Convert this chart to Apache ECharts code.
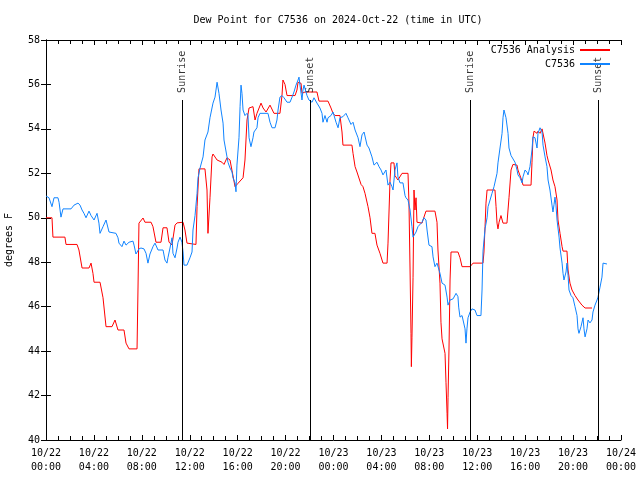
<!DOCTYPE html>
<html><head><meta charset="utf-8">
<script src="https://cdn.jsdelivr.net/npm/echarts@6/dist/echarts.min.js"></script>
<style>html,body{margin:0;padding:0;background:#fff}#c{width:640px;height:480px}</style>
</head><body><div id="c"></div>
<script>
// Hours since 2024-10-22 00:00 UTC
const analysisHours = [0,0.5,0.58,1.58,1.67,2.59,2.75,3.01,3.59,3.76,3.92,4.01,4.51,4.76,5.01,5.51,5.76,6.01,6.51,6.68,6.93,7.60,7.68,7.76,8.10,8.26,8.77,8.93,9.18,9.60,9.77,10.10,10.27,10.52,10.77,10.94,11.44,11.60,11.77,12.52,12.61,12.77,13.27,13.44,13.52,13.69,13.86,13.94,14.28,14.69,14.86,15.11,15.36,15.78,16.03,16.45,16.61,16.78,16.95,17.28,17.45,17.61,17.95,18.12,18.37,18.70,19.03,19.53,19.70,19.78,19.95,20.12,20.79,20.95,21.04,21.29,21.37,21.62,22.62,22.79,23.54,23.79,23.96,24.13,24.54,24.71,24.79,25.54,25.63,25.80,25.96,26.30,26.46,26.63,26.88,27.05,27.21,27.46,27.63,27.88,28.13,28.47,28.55,28.72,28.80,29.05,29.13,29.38,29.72,30.22,30.30,30.39,30.47,30.50,30.55,30.64,30.72,30.80,30.89,30.97,31.39,31.47,31.72,32.47,32.64,32.72,32.89,32.97,33.06,33.22,33.31,33.39,33.48,33.52,33.56,33.64,33.73,33.81,34.39,34.56,34.73,35.40,35.65,36.48,36.56,36.65,36.73,36.82,37.48,37.57,37.65,37.73,37.82,37.98,38.15,38.48,38.65,38.82,38.98,39.32,39.40,39.74,39.82,40.49,40.57,40.65,40.74,40.99,41.07,41.24,41.41,41.57,41.66,41.82,41.91,42.16,42.32,42.49,42.66,42.74,42.91,43.08,43.16,43.49,43.58,43.74,43.91,44.16,44.41,44.74,45.00,45.58];
const analysisValues = [50.0,50.0,49.13,49.13,48.8,48.8,48.55,47.74,47.74,47.96,47.5,47.1,47.1,46.4,45.1,45.1,45.4,44.95,44.95,44.36,44.1,44.1,46.84,49.76,49.99,49.8,49.8,49.6,48.9,48.9,49.55,49.55,48.9,48.78,49.67,49.77,49.8,49.45,48.86,48.8,50.5,52.2,52.2,51.25,49.3,50.9,52.74,52.87,52.6,52.5,52.4,52.7,52.6,51.4,51.55,51.8,52.6,54.4,54.94,55.0,54.4,54.7,55.16,54.94,54.76,55.07,54.7,54.7,55.5,56.2,56.0,55.5,55.5,55.75,56.1,56.05,55.6,55.66,55.66,55.25,55.25,54.94,54.7,54.6,54.6,53.86,53.27,53.27,52.9,52.3,52.06,51.5,51.4,51.1,50.5,50.0,49.3,49.3,48.77,48.4,47.96,47.96,48.86,51.7,52.47,52.47,51.9,51.7,52.0,52.0,50.66,47.65,44.8,43.3,44.6,47.3,51.25,50.35,50.9,49.8,49.76,49.9,50.3,50.3,49.8,48.55,47.06,45.3,44.55,44.55,43.9,42.6,41.2,40.5,41.9,44.05,47.2,48.46,48.46,48.2,47.8,47.8,47.96,47.96,48.46,49.6,50.66,51.25,51.25,50.5,49.76,49.5,49.8,50.1,49.76,49.76,50.9,52.15,52.4,52.37,52.15,51.65,51.47,51.47,52.5,53.6,53.9,53.8,53.9,53.8,54.0,54.0,53.36,52.8,52.6,52.15,51.7,51.4,50.8,49.9,49.3,48.7,48.5,48.5,47.65,47.06,46.75,46.5,46.3,46.07,45.94,45.94];

const stationHours = [0,0.25,0.50,0.67,1.00,1.09,1.25,1.42,2.09,2.34,2.67,2.84,3.01,3.17,3.34,3.59,3.76,4.01,4.26,4.42,4.51,4.76,5.01,5.26,5.84,6.01,6.09,6.34,6.51,6.68,6.93,7.01,7.26,7.35,7.51,7.76,7.93,8.18,8.35,8.51,8.68,8.93,9.10,9.35,9.77,9.93,10.10,10.18,10.35,10.52,10.60,10.77,10.94,11.02,11.19,11.35,11.44,11.52,11.77,12.02,12.19,12.27,12.44,12.61,12.69,12.86,13.11,13.27,13.52,13.69,13.94,14.11,14.28,14.44,14.61,14.78,14.86,15.11,15.19,15.36,15.53,15.61,15.78,15.86,15.94,16.11,16.20,16.28,16.36,16.45,16.61,16.78,16.86,16.95,17.11,17.28,17.36,17.61,17.70,17.86,18.53,18.70,18.87,19.12,19.28,19.37,19.53,19.70,19.87,20.12,20.37,20.54,20.70,20.87,21.04,21.12,21.20,21.37,21.45,21.54,21.70,21.79,21.95,22.21,22.37,22.62,22.87,23.04,23.12,23.29,23.46,23.54,23.79,23.96,24.21,24.38,24.54,24.79,25.04,25.21,25.46,25.63,25.80,26.05,26.21,26.38,26.55,26.80,26.96,27.21,27.38,27.63,27.80,27.97,28.13,28.38,28.55,28.72,28.88,28.97,29.13,29.30,29.38,29.55,29.80,29.97,30.05,30.22,30.39,30.55,30.64,30.89,31.05,31.39,31.55,31.72,31.81,31.97,32.22,32.31,32.47,32.64,32.72,32.89,33.06,33.31,33.48,33.56,33.73,33.98,34.23,34.39,34.45,34.56,34.73,34.81,34.98,35.06,35.14,35.23,35.40,35.56,35.81,35.98,36.31,36.40,36.48,36.65,36.82,36.90,37.07,37.23,37.40,37.65,37.73,37.90,38.07,38.15,38.23,38.40,38.57,38.65,38.82,38.98,39.15,39.32,39.40,39.57,39.74,39.82,39.99,40.15,40.24,40.40,40.57,40.65,40.82,40.99,41.07,41.24,41.41,41.49,41.66,41.82,41.91,42.07,42.24,42.32,42.41,42.49,42.57,42.66,42.83,42.91,43.08,43.16,43.24,43.41,43.49,43.58,43.66,43.83,43.99,44.16,44.33,44.41,44.49,44.66,44.83,44.91,45.00,45.16,45.25,45.41,45.58,45.66,45.83,46.00,46.08,46.25,46.41,46.50,46.66,46.83];
const stationValues = [50.98,50.9,50.5,50.9,50.9,50.7,50.03,50.4,50.4,50.57,50.66,50.57,50.35,50.2,50.0,50.3,50.1,49.9,50.2,49.76,49.3,49.6,49.9,49.36,49.3,49.1,48.86,48.7,48.95,48.77,48.9,48.86,48.95,48.77,48.37,48.6,48.64,48.6,48.4,47.96,48.37,48.7,48.86,48.55,48.55,48.1,47.96,48.2,48.64,49.1,48.4,48.2,48.64,48.9,49.13,48.9,48.46,47.87,47.87,48.2,48.46,49.45,50.1,51.1,51.8,52.24,52.74,53.5,53.86,54.5,55.16,55.43,56.1,55.6,54.85,54.26,53.5,52.74,52.5,52.24,52.06,51.8,51.57,51.17,52.37,53.6,55.0,55.97,55.6,54.85,54.6,54.7,54.6,53.6,53.2,53.6,53.86,54.05,54.5,54.7,54.7,54.3,54.05,54.05,54.4,54.85,55.43,55.5,55.4,55.2,55.2,55.43,55.66,55.97,56.2,56.33,55.97,55.3,55.75,55.97,55.66,55.5,55.3,55.2,55.4,55.16,54.94,54.7,54.3,54.6,54.3,54.5,54.6,54.76,54.3,54.05,54.5,54.55,54.7,54.5,54.2,54.3,53.95,53.6,53.2,53.73,53.86,53.27,53.14,52.74,52.37,52.5,52.3,52.15,51.93,52.15,51.47,51.6,51.4,51.25,52.15,52.47,51.84,51.57,51.57,51.0,50.9,50.8,50.35,49.6,49.13,49.36,49.6,49.8,50.0,49.9,49.45,48.77,48.7,48.24,47.8,47.96,47.9,47.5,47.06,46.97,46.43,46.07,46.3,46.35,46.6,46.45,45.98,45.53,45.6,45.53,45.0,44.36,45.0,45.5,45.76,45.9,45.85,45.6,45.6,46.75,48.5,49.5,50.0,50.5,50.8,51.1,51.4,52.0,52.47,53.14,53.8,54.5,54.85,54.5,53.8,53.14,52.8,52.74,52.5,52.15,51.93,51.8,51.57,51.84,52.15,52.05,51.93,52.3,53.05,53.64,53.6,53.14,53.8,54.05,53.86,53.27,52.74,52.3,51.7,51.25,50.57,50.26,50.6,50.93,50.57,49.9,49.13,48.64,47.96,47.5,47.2,47.56,47.96,47.4,46.75,46.5,46.4,46.0,45.6,45.0,44.8,45.1,45.5,45.0,44.64,45.0,45.4,45.27,45.4,45.76,46.07,46.3,46.43,46.88,47.33,47.96,47.96,47.92];

const sunHours = [11.35, 22.04, 35.40, 46.08];
const sunLabels = ['Sunrise', 'Sunset', 'Sunrise', 'Sunset'];
const yTicks = [40, 42, 44, 46, 48, 50, 52, 54, 56, 58];

const FONT = 'DejaVu Sans Mono';
const zip = (a, b) => a.map((v, i) => [v, b[i]]);
function fmtX(h) {
  const day = 22 + Math.floor(h / 24);
  const hh = Math.round(h % 24);
  return '10/' + day + '\n' + (hh < 10 ? '0' : '') + hh + ':00';
}
const chart = echarts.init(document.getElementById('c'), null, {renderer: 'canvas'});
const axisCommon = {
  axisLine: {show: true, lineStyle: {color: '#000', width: 1}},
  axisTick: {show: true, inside: true, length: 5, lineStyle: {color: '#000'}},
  splitLine: {show: false}
};
chart.setOption({
  animation: false,
  backgroundColor: '#fff',
  textStyle: {fontFamily: FONT},
  title: {
    text: 'Dew Point for C7536 on 2024-Oct-22 (time in UTC)',
    left: 333, top: 10, textAlign: 'center',
    textStyle: {fontFamily: FONT, fontSize: 10, fontWeight: 'normal', color: '#000'}
  },
  legend: {
    orient: 'vertical', right: 24, top: 40, align: 'right',
    itemWidth: 30, itemHeight: 10, itemGap: 4,
    itemStyle: {opacity: 0},
    textStyle: {fontFamily: FONT, fontSize: 10, color: '#000'},
    data: ['C7536 Analysis', 'C7536']
  },
  grid: {left: 46, right: 19, top: 40, bottom: 40, containLabel: false, outerBoundsMode: 'none'},
  xAxis: [
    Object.assign({}, axisCommon, {
      type: 'value', min: 0, max: 48, interval: 4, position: 'bottom',
      minorTick: {show: true, splitNumber: 4, length: 4, lineStyle: {color: '#000'}},
      axisLabel: {formatter: fmtX, fontFamily: FONT, fontSize: 10, color: '#000', lineHeight: 14, margin: 6}
    }),
    Object.assign({}, axisCommon, {
      type: 'value', min: 0, max: 48, interval: 4, position: 'top',
      minorTick: {show: true, splitNumber: 4, length: 4, lineStyle: {color: '#000'}},
      axisLabel: {show: false}
    })
  ],
  yAxis: [
    Object.assign({}, axisCommon, {
      type: 'value', min: yTicks[0], max: yTicks[yTicks.length - 1], interval: 2, position: 'left',
      name: 'degrees F', nameLocation: 'middle', nameGap: 32, nameRotate: 90,
      nameTextStyle: {fontFamily: FONT, fontSize: 10, color: '#000'},
      axisLabel: {fontFamily: FONT, fontSize: 10, color: '#000', margin: 6}
    }),
    Object.assign({}, axisCommon, {
      type: 'value', min: yTicks[0], max: yTicks[yTicks.length - 1], interval: 2, position: 'right',
      axisLabel: {show: false}
    })
  ],
  series: [
    {
      name: 'C7536 Analysis', type: 'line', data: zip(analysisHours, analysisValues),
      symbol: 'none', lineStyle: {color: '#ff0000', width: 1}, itemStyle: {color: '#ff0000'},
      z: 2,
      markLine: {
        silent: true, symbol: 'none', animation: false,
        lineStyle: {color: '#000', width: 1, type: 'solid'},
        label: {show: false},
        data: sunHours.map(t => [{coord: [t, 40]}, {coord: [t, 55.3]}])
      }
    },
    {
      name: 'C7536', type: 'line', data: zip(stationHours, stationValues),
      symbol: 'none', lineStyle: {color: '#1084ff', width: 1}, itemStyle: {color: '#1084ff'},
      z: 3
    },
    {
      name: 'sun', type: 'scatter', symbolSize: 0, silent: true,
      data: sunHours.map((t, i) => ({value: [t, 55.62], name: sunLabels[i]})),
      label: {
        show: true, position: 'inside', rotate: 90, align: 'left', verticalAlign: 'middle',
        formatter: p => p.name, fontFamily: FONT, fontSize: 10, color: '#000'
      }
    }
  ]
});
</script></body></html>
